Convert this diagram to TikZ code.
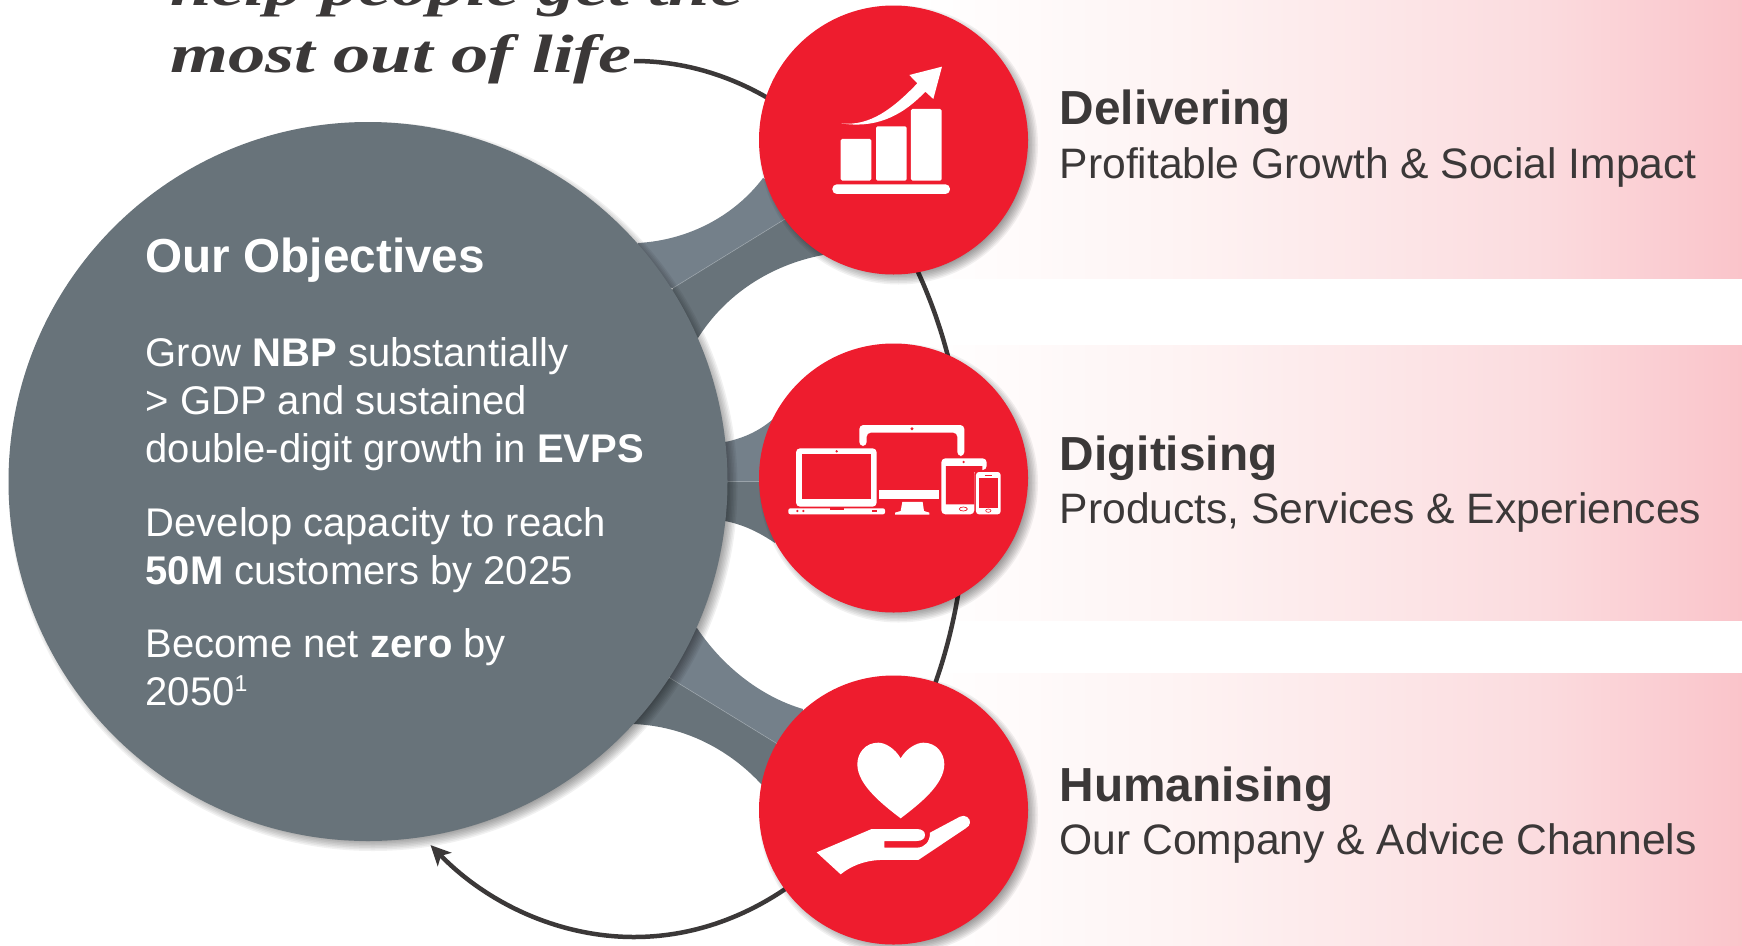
\documentclass[tikz,border=0pt]{standalone}
\usepackage{fontspec}
\setmainfont{Liberation Sans}
\newfontfamily\handfont[FakeStretch=1.38]{Liberation Serif}
\usetikzlibrary{arrows.meta,shadings}
\definecolor{brandred}{HTML}{EE1C2E}
\definecolor{slate}{HTML}{68737A}
\definecolor{slatelight}{HTML}{74808A}
\definecolor{slateline}{HTML}{9AA3AA}
\definecolor{ink}{HTML}{3B3838}
\definecolor{pinkA}{HTML}{FEF3F3}
\definecolor{pinkB}{HTML}{FBDCDF}
\definecolor{pinkC}{HTML}{FAC4CA}
\pgfdeclarehorizontalshading{panelfade}{100bp}{color(0bp)=(white); color(25bp)=(white); color(41bp)=(pinkA); color(62.5bp)=(pinkB); color(75bp)=(pinkC); color(100bp)=(pinkC)}
\newcommand{\softshadow}[3]{\foreach \k in {0,...,7}{\fill[black,opacity=.055] ({#1+5},{#2+5}) circle [radius={#3+5-\k*1.5}];}}
\tikzset{
  panel/.style={shading=panelfade,shading angle=0},
  redcircle/.style={circle,fill=brandred,minimum size=269pt,inner sep=0pt},
  bigcircle/.style={circle,fill=slate,minimum size=719pt,inner sep=0pt},
  headline/.style={anchor=base west,inner sep=0pt,text=ink,font=\fontsize{47.8}{52}\selectfont\bfseries},
  subline/.style={anchor=base west,inner sep=0pt,text=ink,font=\fontsize{42.6}{48}\selectfont},
  objhead/.style={anchor=base west,inner sep=0pt,text=white,font=\fontsize{47.7}{52}\selectfont\bfseries},
  objtext/.style={anchor=north west,inner sep=0pt,text=white,align=left,font=\fontsize{40}{48}\selectfont},
  handtext/.style={anchor=base west,inner sep=0pt,text=ink,font=\handfont\fontsize{54}{60}\selectfont\bfseries\itshape},
  flow/.style={draw=ink,line width=4.5pt},
  divider/.style={draw=slateline,line width=.6pt}
}
\begin{document}
\begin{tikzpicture}[x=1pt,y=-1pt]
\path[use as bounding box] (0,0) rectangle (1742,945);
\clip (0,0) rectangle (1742,945);
% panels
\path[panel] (920,0) rectangle (1742,278);
\path[panel] (920,345) rectangle (1742,620);
\path[panel] (920,673) rectangle (1742,945);
% script text
\node[handtext] (tag1) at (170,5) {help people get the};
\node[handtext] (tag2) at (170,72) {most out of life};
% flow line
\coordinate (flowstart) at (634,61);
% bands
\fill[slatelight] (638,243) .. controls (690,240) and (735,215) .. (763,178) -- (800,200) -- (785,219) -- (673,288) -- (620,280) -- cycle;
\fill[slate] (673,288) -- (785,219) -- (840,240) -- (823,255) .. controls (770,265) and (725,295) .. (698,338) -- (660,320) -- cycle;
\fill[slatelight] (700,442) -- (725,442) .. controls (745,438) and (760,430) .. (772,420) -- (800,481) -- (700,481) -- cycle;
\fill[slate] (700,481) -- (800,481) -- (775,543) .. controls (760,533) and (745,525) .. (725,521) -- (700,521) -- cycle;
\fill[slatelight] (697,628) .. controls (725,670) and (765,698) .. (803,709) -- (800,760) -- (776,743) -- (670,678) -- (660,640) -- cycle;
\fill[slate] (670,678) -- (776,743) -- (790,790) -- (762,785) .. controls (730,750) and (685,726) .. (633,724) -- (620,700) -- cycle;
\draw[divider] (673,288) -- (785,219);
\draw[divider] (725,481) -- (762,481);
\draw[divider] (670,678) -- (776,743);
% flow arc
\draw[flow,-{Stealth[length=20pt,width=19pt,inset=5pt]}] (flowstart) arc[start angle=-90,end angle=127.8,x radius=332,y radius=438];
% shadows
\softshadow{368}{481.5}{359.5}
\softshadow{893.5}{140}{134.5}
\softshadow{893.5}{478}{134.5}
\softshadow{893.5}{810}{134.5}
% circles
\node[bigcircle] (objectives) at (368,481.5) {};
\node[redcircle] (delivering) at (893.5,140) {};
\node[redcircle] (digitising) at (893.5,478) {};
\node[redcircle] (humanising) at (893.5,810) {};
% chart icon
\begin{scope}[shift={(780,50)},x=.3333pt,y=-.3333pt]
\fill[white,rounded corners=1.5pt] (182,267) rectangle (274,392);
\fill[white,rounded corners=1.5pt] (288,229) rectangle (380,392);
\fill[white,rounded corners=1.5pt] (393,177) rectangle (485,392);
\fill[white,rounded corners=4.5pt] (157,403) rectangle (510,432);
\fill[white] (183,220) .. controls (270,230) and (340,175) .. (412,100) -- (388,75) -- (486,50) -- (460,147) -- (436,125) .. controls (360,205) and (280,235) .. (183,220) -- cycle;
\end{scope}
% devices icon
\begin{scope}[shift={(780,410)},x=.3333pt,y=-.3333pt]
\fill[white,rounded corners=4pt] (238,108) -- (238,45) -- (553,45) -- (553,138) -- (532,138) -- (532,68) -- (260,68) -- (260,108) -- cycle;
\fill[brandred] (396,56) circle [radius=5];
\fill[white] (297,240) rectangle (477,267);
\fill[white] (367,276) -- (428,276) -- (432,303) -- (448,308) -- (448,314) -- (345,314) -- (345,308) -- (362,303) -- cycle;
\fill[white,rounded corners=4pt] (48,290) -- (48,115) -- (290,115) -- (290,290) -- cycle;
\fill[brandred] (65,133) rectangle (274,268);
\fill[brandred] (170,124) circle [radius=4];
\fill[white,rounded corners=2pt] (25,295) rectangle (315,313);
\fill[brandred] (150,295) rectangle (192,300);
\fill[brandred] (52,303) circle [radius=3.5];
\fill[brandred] (70,303) circle [radius=3.5];
\fill[brandred] (275,300) rectangle (292,305);
\fill[white,rounded corners=4pt] (484,313) -- (484,145) -- (620,145) -- (620,180) -- (583,180) -- (583,313) -- cycle;
\fill[brandred] (498,168) -- (607,168) -- (607,186) -- (583,186) -- (583,283) -- (498,283) -- cycle;
\fill[brandred] (551,156) circle [radius=4];
\draw[brandred,line width=.7pt] (550,297) ellipse [x radius=12,y radius=6];
\fill[white,rounded corners=3pt] (588,186) rectangle (662,313);
\fill[brandred] (596,205) rectangle (654,293);
\draw[brandred,line width=.8pt] (615,197) -- (635,197);
\draw[brandred,line width=.6pt] (625,302) ellipse [x radius=8,y radius=5];
\end{scope}
% heart and hand icon
\begin{scope}[shift={(800,730)},x=.3333pt,y=-.3333pt]
\fill[white] (302,85) .. controls (285,55) and (255,38) .. (235,38) .. controls (195,38) and (172,70) .. (172,103) .. controls (172,165) and (250,225) .. (302,265) .. controls (354,225) and (433,165) .. (433,103) .. controls (433,70) and (410,38) .. (370,38) .. controls (350,38) and (319,55) .. (302,85) -- cycle;
\fill[white] (50,367) -- (215,297) -- (350,297) .. controls (367,297) and (375,305) .. (375,315) .. controls (375,325) and (367,333) .. (350,333) -- (253,333) -- (253,353) -- (350,353) .. controls (375,353) and (390,335) .. (390,308) -- (480,260) .. controls (495,252) and (512,265) .. (510,278) .. controls (510,285) and (505,290) .. (497,295) -- (355,390) -- (240,390) .. controls (190,392) and (150,410) .. (122,433) -- cycle;
\end{scope}
% objectives text
\node[objhead] (objtitle) at (145.5,272) {Our Objectives};
\node[objtext] (obj1) at (145.5,337) {Grow \textbf{NBP} substantially\\> GDP and sustained\\double-digit growth in \textbf{EVPS}};
\node[objtext] (obj2) at (145.5,507) {Develop capacity to reach\\\textbf{50M} customers by 2025};
\node[objtext] (obj3) at (145.5,628) {Become net \textbf{zero} by\\2050\raisebox{14pt}{\fontsize{23}{23}\selectfont 1}};
% right text
\node[headline] (h1) at (1059.5,124.5) {Delivering};
\node[subline] (s1) at (1059.5,178) {Profitable Growth \& Social Impact};
\node[headline] (h2) at (1059.5,470) {Digitising};
\node[subline] (s2) at (1059.5,523.5) {Products, Services \& Experiences};
\node[headline] (h3) at (1059.5,801) {Humanising};
\node[subline] (s3) at (1059.5,854.5) {Our Company \& Advice Channels};
\end{tikzpicture}
\end{document}
